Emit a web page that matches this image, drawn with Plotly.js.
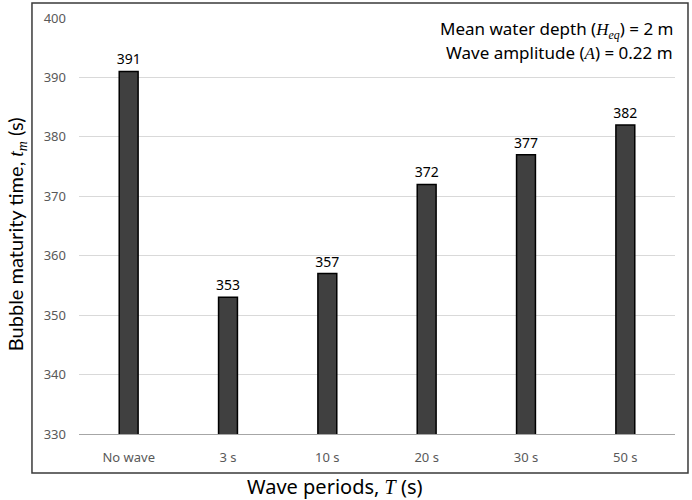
<!DOCTYPE html>
<html>
<head>
<meta charset="utf-8">
<script src="https://cdn.plot.ly/plotly-3.0.1.min.js"></script>
<style>
  body { margin: 0; background: white; }
  #chart { width: 692px; height: 500px; }
</style>
</head>
<body>
<div id="chart"></div>
<script>
const PERIODS  = [ 'No wave', '3 s', '10 s', '20 s', '30 s', '50 s' ];
const MATURITY = [ 391, 353, 357, 372, 377, 382 ];
const Y_TICKS  = [ 330, 340, 350, 360, 370, 380, 390, 400 ];

const FONT  = 'Noto Sans, Open Sans, sans-serif';
const TITLE = 'Lato, Noto Sans, sans-serif';
const MATH  = 'Liberation Serif, DejaVu Serif, serif';

function italic( s ) {
	return '<span style="font-family:' + MATH + '"><i>' + s + '</i></span>';
}

const trace = {
	type         : 'bar',
	x            : PERIODS,
	y            : MATURITY,
	width        : 0.19,
	marker       : { color: '#404040', line: { color: '#000000', width: 1.5 } },
	text         : MATURITY.map( String ),
	textposition : 'outside',
	constraintext: 'none',
	textfont     : { family: FONT, size: 14, color: '#000000' },
	cliponaxis   : false,
	hoverinfo    : 'none'
};

const layout = {
	width        : 692,
	height       : 500,
	margin       : { l: 79, r: 17, t: 18, b: 66 },
	paper_bgcolor: 'white',
	plot_bgcolor : 'white',
	showlegend   : false,
	font         : { family: FONT, color: '#595959' },
	xaxis: {
		type             : 'category',
		tickfont         : { size: 13, color: '#595959' },
		ticks            : '',
		ticklabelstandoff: 11,
		showline         : true,
		linecolor        : '#a6a6a6',
		linewidth        : 1,
		showgrid         : false,
		fixedrange       : true
	},
	yaxis: {
		range            : [ 330, 400 ],
		tickvals         : Y_TICKS,
		tickfont         : { size: 13, color: '#595959' },
		ticks            : '',
		ticklabelstandoff: 12,
		showgrid         : true,
		gridcolor        : '#d9d9d9',
		gridwidth        : 1,
		zeroline         : false,
		showline         : false,
		fixedrange       : true
	},
	shapes: [ {
		type: 'rect', xref: 'paper', yref: 'paper',
		x0: -0.0789, x1: 1.0218, y0: -0.0938, y1: 1.036,
		line: { color: '#3a3a3a', width: 1.5 }
	} ],
	annotations: [
		{
			xref: 'paper', yref: 'paper', x: -0.106, y: 0.48,
			xanchor: 'center', yanchor: 'middle',
			text: 'Bubble maturity time, ' + italic( 't' ) + '<sub>' + italic( 'm' ) + '</sub> (s)',
			textangle: -90, showarrow: false,
			font: { family: TITLE, size: 20, color: '#000000' }
		},
		{
			xref: 'paper', yref: 'paper', x: 0.43, y: -0.125,
			xanchor: 'center', yanchor: 'middle',
			text: 'Wave periods, ' + italic( 'T' ) + ' (s)',
			showarrow: false,
			font: { family: FONT, size: 20, color: '#000000' }
		},
		{
			xref: 'paper', yref: 'paper', x: 1.0, y: 0.972,
			text: 'Mean water depth (' + italic( 'H' ) + '<sub>' + italic( 'eq' ) + '</sub>) = 2 m',
			showarrow: false, xanchor: 'right', yanchor: 'middle',
			font: { family: FONT, size: 17, color: '#000000' }
		},
		{
			xref: 'paper', yref: 'paper', x: 1.0, y: 0.916,
			text: 'Wave amplitude (' + italic( 'A' ) + ') = 0.22 m',
			showarrow: false, xanchor: 'right', yanchor: 'middle',
			font: { family: FONT, size: 17, color: '#000000' }
		}
	]
};

Plotly.newPlot( 'chart', [ trace ], layout, { displayModeBar: false, staticPlot: true } );
</script>
</body>
</html>
